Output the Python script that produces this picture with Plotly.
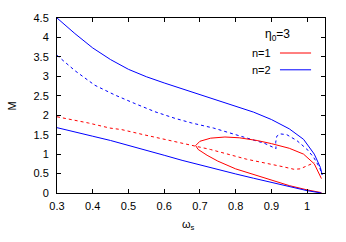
import plotly.graph_objects as go

# n=2 solid upper branch
n2_upper_x = [0.3, 0.35, 0.4, 0.45, 0.5, 0.55, 0.6, 0.65, 0.7, 0.75, 0.8, 0.85, 0.9, 0.95, 0.99, 1.02, 1.037, 1.042]
n2_upper_y = [4.5, 4.1, 3.73, 3.43, 3.18, 2.99, 2.83, 2.68, 2.53, 2.38, 2.24, 2.08, 1.89, 1.65, 1.38, 1.0, 0.66, 0.47]

# n=2 solid lower branch
n2_lower_x = [0.3, 0.35, 0.4, 0.45, 0.5, 0.55, 0.6, 0.65, 0.7, 0.75, 0.8, 0.85, 0.9, 0.95, 1.0, 1.04]
n2_lower_y = [1.68, 1.56, 1.46, 1.35, 1.23, 1.1, 0.97, 0.84, 0.72, 0.6, 0.49, 0.38, 0.27, 0.16, 0.06, 0.0]

# n=2 dashed
n2_dash_x = [0.3, 0.351, 0.406, 0.462, 0.518, 0.574, 0.63, 0.677, 0.738, 0.83, 0.88, 0.913, 0.912, 0.915, 0.925, 0.943, 0.971, 0.999, 1.018, 1.035, 1.042]
n2_dash_y = [3.54, 3.14, 2.77, 2.52, 2.30, 2.09, 1.92, 1.80, 1.67, 1.42, 1.28, 1.14, 1.30, 1.46, 1.52, 1.50, 1.35, 1.13, 0.92, 0.65, 0.47]

# n=1 solid loop
n1_solid_x = [1.04, 1.0, 0.95, 0.9, 0.85, 0.8, 0.75, 0.72, 0.695, 0.688, 0.7, 0.73, 0.77, 0.81, 0.86, 0.9, 0.95, 0.99, 1.02, 1.04]
n1_solid_y = [0.01, 0.08, 0.19, 0.33, 0.47, 0.62, 0.82, 0.97, 1.12, 1.22, 1.33, 1.41, 1.44, 1.42, 1.35, 1.27, 1.15, 1.0, 0.75, 0.37]

# n=1 dashed
n1_dash_x = [0.3, 0.388, 0.448, 0.481, 0.542, 0.635, 0.672, 0.729, 0.83, 0.897, 0.935, 0.963, 0.98, 0.995, 1.01, 1.02]
n1_dash_y = [1.96, 1.80, 1.67, 1.63, 1.50, 1.31, 1.25, 1.12, 0.87, 0.75, 0.67, 0.61, 0.62, 0.68, 0.75, 0.78]

x_ticks = [0.3, 0.4, 0.5, 0.6, 0.7, 0.8, 0.9, 1.0]
x_tick_labels = ["0.3", "0.4", "0.5", "0.6", "0.7", "0.8", "0.9", "1"]
y_ticks = [0, 0.5, 1, 1.5, 2, 2.5, 3, 3.5, 4, 4.5]
y_tick_labels = ["0", "0.5", "1", "1.5", "2", "2.5", "3", "3.5", "4", "4.5"]

RED = "#ff0000"
BLUE = "#0000ff"
DASH = "3px,3px"

fig = go.Figure()
fig.add_trace(go.Scatter(x=n1_dash_x, y=n1_dash_y, mode="lines", line=dict(color=RED, width=1, dash=DASH), showlegend=False))
fig.add_trace(go.Scatter(x=n2_dash_x, y=n2_dash_y, mode="lines", line=dict(color=BLUE, width=1, dash=DASH), showlegend=False))
fig.add_trace(go.Scatter(x=n1_solid_x, y=n1_solid_y, mode="lines", line=dict(color=RED, width=1), showlegend=False))
fig.add_trace(go.Scatter(x=n2_upper_x, y=n2_upper_y, mode="lines", line=dict(color=BLUE, width=1), showlegend=False))
fig.add_trace(go.Scatter(x=n2_lower_x, y=n2_lower_y, mode="lines", line=dict(color=BLUE, width=1), showlegend=False))

font = dict(family="Liberation Sans, Arial, sans-serif", size=11, color="black")

axis_common = dict(
    showgrid=False, zeroline=False, showline=True, linecolor="black", linewidth=1,
    mirror="ticks", ticks="inside", ticklen=4, tickcolor="black", tickfont=font,
)

fig.update_layout(
    width=346, height=242,
    margin=dict(l=57, r=21, t=14, b=49),
    paper_bgcolor="white", plot_bgcolor="white",
    font=font,
    xaxis=dict(range=[0.3, 1.05], tickvals=x_ticks, ticktext=x_tick_labels,
               ticklabelstandoff=3, **axis_common),
    yaxis=dict(range=[0, 4.5], tickvals=y_ticks, ticktext=y_tick_labels,
               ticklabelstandoff=5, **axis_common),
    showlegend=False,
)

# axis titles
fig.add_annotation(text="ω<sub>s</sub>", xref="paper", yref="paper", x=0.49, y=-0.18,
                   showarrow=False, font=font, xanchor="center", yanchor="middle")
fig.add_annotation(text="M", xref="paper", yref="paper", x=-0.168, y=0.5, textangle=-90,
                   showarrow=False, font=font, xanchor="center", yanchor="middle")

# key (gnuplot-style: text left of sample line)
fig.add_annotation(text="η<sub>0</sub>=3", xref="paper", yref="paper", x=0.875, y=0.905,
                   showarrow=False, font=dict(family=font["family"], size=12, color="black"),
                   xanchor="right", yanchor="middle")
fig.add_annotation(text="n=1", xref="paper", yref="paper", x=0.806, y=0.80,
                   showarrow=False, font=font, xanchor="right", yanchor="middle")
fig.add_annotation(text="n=2", xref="paper", yref="paper", x=0.806, y=0.704,
                   showarrow=False, font=font, xanchor="right", yanchor="middle")
fig.add_shape(type="line", xref="paper", yref="paper", x0=0.832, x1=0.948, y0=0.80, y1=0.80,
              line=dict(color=RED, width=1))
fig.add_shape(type="line", xref="paper", yref="paper", x0=0.832, x1=0.948, y0=0.704, y1=0.704,
              line=dict(color=BLUE, width=1))

fig.write_html("out.html", config={"displayModeBar": False},
               post_script="document.body.style.margin='0';document.body.style.padding='0';")
